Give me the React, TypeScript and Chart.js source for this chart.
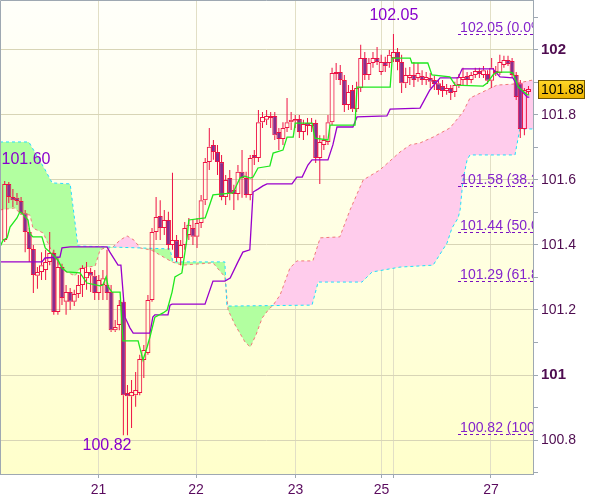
import React, { useEffect, useRef } from 'react';
import { Chart, registerables } from 'chart.js';

Chart.register(...registerables);

const FONT = '"Liberation Sans", Arial, Helvetica, sans-serif';

// ---------- candle data (hourly) ----------
const opens = [
  101.415, 101.588, 101.548, 101.545, 101.535, 101.498, 101.440, 101.388, 101.305, 101.317,
  101.323, 101.348, 101.375, 101.194, 101.332, 101.225, 101.255, 101.225, 101.249, 101.277,
  101.298, 101.317, 101.305, 101.252, 101.277, 101.277, 101.255, 101.138, 101.154, 101.225,
  100.945, 100.935, 100.938, 100.945, 101.046, 101.068, 101.231, 101.440, 101.489, 101.452,
  101.477, 101.400, 101.415, 101.360, 101.400, 101.431, 101.452, 101.425, 101.468, 101.538,
  101.655, 101.708, 101.686, 101.655, 101.548, 101.606, 101.569, 101.557, 101.625, 101.606,
  101.554, 101.677, 101.668, 101.778, 101.785, 101.791, 101.797, 101.748, 101.726, 101.760,
  101.778, 101.782, 101.788, 101.748, 101.775, 101.766, 101.775, 101.668, 101.708, 101.717,
  101.778, 101.926, 101.932, 101.908, 101.831, 101.877, 101.818, 101.883, 101.975, 101.923,
  101.960, 101.975, 101.932, 101.963, 101.960, 101.975, 101.994, 101.963, 101.898, 101.914,
  101.923, 101.914, 101.920, 101.908, 101.914, 101.908, 101.898, 101.889, 101.874, 101.883,
  101.871, 101.892, 101.908, 101.920, 101.908, 101.923, 101.935, 101.923, 101.926, 101.905,
  101.929, 101.929, 101.954, 101.969, 101.966, 101.923, 101.898, 101.757, 101.871,
];
const highs = [
  101.597, 101.594, 101.572, 101.560, 101.548, 101.508, 101.452, 101.400, 101.332, 101.378,
  101.385, 101.440, 101.385, 101.360, 101.342, 101.277, 101.268, 101.262, 101.308, 101.338,
  101.348, 101.329, 101.323, 101.308, 101.323, 101.385, 101.277, 101.169, 101.231, 101.231,
  100.969, 100.985, 101.009, 101.062, 101.092, 101.246, 101.452, 101.548, 101.538, 101.508,
  101.502, 101.622, 101.431, 101.415, 101.471, 101.483, 101.477, 101.483, 101.554, 101.668,
  101.760, 101.723, 101.708, 101.677, 101.615, 101.631, 101.585, 101.646, 101.692, 101.625,
  101.677, 101.692, 101.815, 101.809, 101.815, 101.809, 101.809, 101.760, 101.778, 101.852,
  101.809, 101.800, 101.800, 101.785, 101.791, 101.791, 101.785, 101.738, 101.738, 101.800,
  101.945, 101.960, 101.954, 101.923, 101.892, 101.892, 101.902, 102.016, 101.994, 101.975,
  101.994, 102.009, 101.985, 101.979, 102.000, 102.049, 102.006, 101.985, 101.945, 101.948,
  101.963, 101.960, 101.938, 101.932, 101.929, 101.920, 101.908, 101.908, 101.895, 101.892,
  101.902, 101.926, 101.945, 101.932, 101.932, 101.945, 101.945, 101.951, 101.938, 101.975,
  101.951, 101.985, 101.982, 101.982, 101.975, 101.932, 101.908, 101.883, 101.889,
];
const lows = [
  101.409, 101.529, 101.517, 101.523, 101.492, 101.378, 101.348, 101.252, 101.265, 101.292,
  101.292, 101.338, 101.185, 101.185, 101.215, 101.185, 101.200, 101.212, 101.237, 101.240,
  101.262, 101.255, 101.231, 101.231, 101.231, 101.231, 101.132, 101.132, 101.138, 100.815,
  100.815, 100.837, 100.902, 100.938, 100.991, 101.062, 101.225, 101.415, 101.415, 101.431,
  101.385, 101.385, 101.348, 101.338, 101.385, 101.415, 101.400, 101.391, 101.452, 101.523,
  101.631, 101.662, 101.615, 101.538, 101.523, 101.538, 101.508, 101.538, 101.545, 101.545,
  101.538, 101.646, 101.655, 101.760, 101.769, 101.760, 101.723, 101.692, 101.708, 101.748,
  101.754, 101.760, 101.729, 101.723, 101.738, 101.748, 101.652, 101.588, 101.692, 101.708,
  101.769, 101.908, 101.892, 101.809, 101.815, 101.809, 101.809, 101.871, 101.908, 101.908,
  101.945, 101.954, 101.923, 101.932, 101.945, 101.963, 101.938, 101.868, 101.883, 101.892,
  101.886, 101.902, 101.892, 101.892, 101.883, 101.877, 101.862, 101.855, 101.862, 101.846,
  101.855, 101.883, 101.889, 101.892, 101.898, 101.914, 101.914, 101.914, 101.895, 101.883,
  101.920, 101.923, 101.945, 101.951, 101.914, 101.846, 101.729, 101.738, 101.862,
];
const closes = [
  101.588, 101.548, 101.538, 101.535, 101.498, 101.440, 101.388, 101.308, 101.317, 101.338,
  101.348, 101.375, 101.194, 101.332, 101.237, 101.255, 101.225, 101.249, 101.277, 101.329,
  101.317, 101.305, 101.252, 101.292, 101.298, 101.252, 101.138, 101.148, 101.215, 100.938,
  100.935, 100.948, 100.954, 101.049, 101.077, 101.231, 101.440, 101.486, 101.452, 101.477,
  101.400, 101.415, 101.360, 101.400, 101.452, 101.462, 101.425, 101.468, 101.538, 101.655,
  101.702, 101.686, 101.655, 101.548, 101.600, 101.560, 101.557, 101.625, 101.606, 101.554,
  101.668, 101.668, 101.778, 101.794, 101.797, 101.797, 101.738, 101.726, 101.760, 101.778,
  101.785, 101.788, 101.748, 101.772, 101.766, 101.775, 101.668, 101.717, 101.723, 101.778,
  101.929, 101.932, 101.908, 101.831, 101.871, 101.818, 101.883, 101.975, 101.923, 101.960,
  101.975, 101.963, 101.963, 101.951, 101.985, 101.994, 101.963, 101.898, 101.923, 101.923,
  101.908, 101.929, 101.908, 101.917, 101.902, 101.895, 101.877, 101.874, 101.883, 101.868,
  101.892, 101.917, 101.917, 101.908, 101.923, 101.935, 101.926, 101.938, 101.905, 101.945,
  101.935, 101.963, 101.969, 101.957, 101.923, 101.855, 101.757, 101.877, 101.880,
];

// ---------- Ichimoku lines, [bar index, price] ----------
const tenkanLine = [
  [-1.15, 101.394], [-0.4, 101.415], [0.6, 101.422], [1.3, 101.455], [3.0, 101.483], [3.7, 101.502],
  [4.2, 101.498], [5.7, 101.477], [6.2, 101.434], [6.9, 101.425], [9.1, 101.425], [9.9, 101.391],
  [11.1, 101.378], [13.0, 101.354], [14.0, 101.329], [15.2, 101.317], [18.4, 101.314], [20.1, 101.283],
  [23.3, 101.274], [24.0, 101.277], [24.8, 101.302], [25.3, 101.271], [26.2, 101.255], [28.2, 101.255],
  [28.9, 101.105], [32.6, 101.105], [33.8, 101.046], [34.8, 101.086], [35.5, 101.117], [36.7, 101.178],
  [38.7, 101.191], [39.7, 101.200], [40.9, 101.255], [41.6, 101.302], [43.3, 101.314], [44.6, 101.425],
  [45.0, 101.477], [49.0, 101.483], [50.9, 101.554], [55.8, 101.560], [57.5, 101.606], [58.7, 101.612],
  [60.0, 101.606], [60.7, 101.609], [61.9, 101.637], [64.8, 101.643], [65.6, 101.683], [68.0, 101.692],
  [69.0, 101.732], [70.5, 101.732], [71.0, 101.775], [75.1, 101.775], [75.8, 101.729], [79.0, 101.723],
  [79.5, 101.769], [85.6, 101.769], [86.1, 101.886], [94.2, 101.886], [94.7, 101.975], [99.1, 101.975],
  [99.5, 101.960], [103.4, 101.960], [104.4, 101.923], [108.8, 101.917], [110.1, 101.892], [116.9, 101.889],
  [117.9, 101.898], [119.3, 101.923], [120.3, 101.932], [123.5, 101.932], [124.2, 101.929], [125.5, 101.886],
  [127.7, 101.862], [128.2, 101.862],
];
const kijunLine = [
  [-1.15, 101.348], [9.1, 101.348], [9.85, 101.360], [13.5, 101.363], [14.0, 101.391], [16.0, 101.394],
  [25.0, 101.394], [25.7, 101.378], [27.7, 101.338], [28.4, 101.338], [29.4, 101.178], [30.6, 101.145],
  [31.4, 101.129], [35.5, 101.129], [36.2, 101.178], [36.7, 101.185], [39.9, 101.185], [40.4, 101.215],
  [40.9, 101.218], [48.95, 101.218], [50.9, 101.289], [53.8, 101.289], [55.1, 101.298], [57.0, 101.348],
  [58.2, 101.378], [59.9, 101.385], [60.7, 101.563], [61.9, 101.572], [63.1, 101.582], [64.1, 101.588],
  [70.2, 101.588], [71.4, 101.609], [72.7, 101.609], [74.1, 101.646], [75.1, 101.662], [79.0, 101.662],
  [80.2, 101.708], [81.2, 101.763], [85.1, 101.763], [86.1, 101.794], [93.4, 101.797], [94.2, 101.818],
  [101.5, 101.821], [103.9, 101.877], [106.4, 101.914], [110.8, 101.914], [111.8, 101.942], [119.3, 101.942],
  [121.05, 101.917], [124.2, 101.914], [125.5, 101.886], [127.7, 101.855], [128.2, 101.855],
];
const spanALine = [
  [-1.15, 101.508], [2.5, 101.514], [3.7, 101.498], [6.2, 101.492], [6.9, 101.452], [9.4, 101.437],
  [11.1, 101.391], [12.3, 101.360], [14.0, 101.323], [17.2, 101.305], [18.4, 101.329], [22.1, 101.335],
  [23.3, 101.385], [24.5, 101.391], [26.2, 101.391], [28.2, 101.415], [29.9, 101.428], [31.6, 101.415],
  [33.1, 101.391], [35.5, 101.385], [36.2, 101.382], [39.2, 101.360], [40.9, 101.348], [43.3, 101.338],
  [47.7, 101.342], [50.9, 101.345], [53.8, 101.302], [54.6, 101.200], [56.3, 101.154], [58.7, 101.102],
  [60.0, 101.086], [61.4, 101.123], [62.9, 101.175], [64.4, 101.200], [65.6, 101.215], [67.3, 101.246],
  [69.7, 101.329], [71.4, 101.351], [75.3, 101.351], [77.1, 101.422], [81.9, 101.425], [84.4, 101.508],
  [87.6, 101.600], [91.7, 101.631], [96.6, 101.686], [99.1, 101.708], [101.5, 101.714], [104.7, 101.732],
  [108.8, 101.760], [112.0, 101.809], [113.7, 101.852], [120.3, 101.892], [124.2, 101.895], [129.2, 101.908],
];
const spanBLine = [
  [-1.15, 101.717], [5.9, 101.717], [9.9, 101.631], [11.6, 101.591], [16.0, 101.588], [17.9, 101.397],
  [40.4, 101.388], [41.1, 101.348], [53.8, 101.348], [54.3, 101.212], [75.1, 101.215], [76.6, 101.286],
  [87.3, 101.286], [89.8, 101.317], [96.6, 101.332], [104.7, 101.338], [105.5, 101.354], [108.1, 101.406],
  [109.3, 101.452], [110.8, 101.483], [111.3, 101.508], [112.0, 101.600], [113.0, 101.662], [113.7, 101.677],
  [124.7, 101.677], [125.9, 101.757], [129.2, 101.757],
];

// ---------- axes ----------
const X_MIN = -1.1486;
const X_MAX = 129.106;
const Y_MIN = 100.6954;
const Y_MAX = 102.1538;
const dayTickPos = [22.92, 46.75, 71.07, 92.08, 95.13, 118.84];
const dayTickLabels = ['21', '22', '23', '25', '', '27'];
const yTickValues = [100.7, 100.8, 100.9, 101.0, 101.1, 101.2, 101.3, 101.4, 101.5, 101.6, 101.7, 101.8, 101.9, 102.0, 102.1];
const yTickLabels = ['', '100.8', '', '101', '', '101.2', '', '101.4', '', '101.6', '', '101.8', '', '102', ''];

// ---------- annotations ----------
const fibValues = [102.05, 101.58, 101.44, 101.29, 100.82];
const fibLabels = ['102.05 (0.0%)', '101.58 (38.2%)', '101.44 (50.0%)', '101.29 (61.8%)', '100.82 (100.0%)'];
const fibStartIndex = 110.8;
const markerTexts = ['102.05', '100.82', '101.60'];
const markerIndex = [95.1, 25.0, 5.2];
const markerPrice = [102.105, 100.782, 101.662];
const lastPrice = 101.88;

// ---------- colours ----------
const RED = '#ee1144';
const PURPLE_BODY = '#8a2d8c';
const AXIS = '#9ea8b2';
const GRID_H = '#d8d5b6';
const GRID_V = '#e2dfc6';
const LABEL = '#4e0c50';
const MARK = '#8800cc';

const toXY = (arr: number[][]) => arr.map(([x, y]) => ({ x, y }));

const bgPlugin = {
  id: 'bgPlugin',
  beforeDraw(chart: any) {
    const { ctx, chartArea: a, width, height } = chart;
    ctx.save();
    ctx.fillStyle = '#ffffff';
    ctx.fillRect(0, 0, width, height);
    const g = ctx.createLinearGradient(0, a.top, 0, a.bottom);
    g.addColorStop(0, '#fffffa');
    g.addColorStop(1, '#ffffcb');
    ctx.fillStyle = g;
    ctx.fillRect(a.left, a.top, a.right - a.left, a.bottom - a.top);
    ctx.restore();
  },
};

const overlayPlugin = {
  id: 'overlayPlugin',
  afterDraw(chart: any) {
    const { ctx, chartArea: a, scales } = chart;
    const xs = scales.x;
    const ys = scales.y;
    ctx.save();
    ctx.beginPath();
    ctx.rect(a.left, a.top, a.right - a.left, a.bottom - a.top);
    ctx.clip();
    // fibonacci levels
    const x0 = xs.getPixelForValue(fibStartIndex);
    ctx.font = '14px ' + FONT;
    ctx.textAlign = 'left';
    ctx.textBaseline = 'alphabetic';
    fibValues.forEach((v, k) => {
      const y = Math.round(ys.getPixelForValue(v)) + 0.5;
      ctx.strokeStyle = '#7a10c0';
      ctx.lineWidth = 1;
      ctx.setLineDash([3, 3]);
      ctx.beginPath();
      ctx.moveTo(Math.round(x0), y);
      ctx.lineTo(a.right, y);
      ctx.stroke();
      ctx.setLineDash([]);
      ctx.fillStyle = '#8424cc';
      ctx.fillText(fibLabels[k], x0 + 2, y - 3);
    });
    // high / low markers
    ctx.font = '16px ' + FONT;
    ctx.textAlign = 'center';
    ctx.textBaseline = 'middle';
    ctx.fillStyle = MARK;
    markerTexts.forEach((t, k) => {
      ctx.fillText(t, xs.getPixelForValue(markerIndex[k]), ys.getPixelForValue(markerPrice[k]));
    });
    ctx.restore();

    // plot frame (top & left)
    ctx.save();
    ctx.strokeStyle = AXIS;
    ctx.lineWidth = 1;
    ctx.beginPath();
    ctx.moveTo(a.left + 0.5, a.bottom);
    ctx.lineTo(a.left + 0.5, a.top + 0.5);
    ctx.lineTo(a.right, a.top + 0.5);
    ctx.stroke();

    // last price box
    const py = Math.round(ys.getPixelForValue(lastPrice));
    const bx = Math.round(a.right) + 5;
    const bw = 46;
    const bh = 18;
    const by = py - 9;
    const g = ctx.createLinearGradient(0, by, 0, by + bh);
    g.addColorStop(0, '#ffd82a');
    g.addColorStop(1, '#eeb400');
    ctx.fillStyle = g;
    ctx.fillRect(bx, by, bw, bh);
    ctx.strokeStyle = '#6e5500';
    ctx.strokeRect(bx + 0.5, by + 0.5, bw, bh);
    ctx.fillStyle = '#000000';
    ctx.font = '14px ' + FONT;
    ctx.textAlign = 'left';
    ctx.textBaseline = 'middle';
    ctx.fillText(lastPrice.toFixed(2), bx + 3, py + 1);
    ctx.restore();
  },
};

export default function App() {
  const ref = useRef<HTMLCanvasElement | null>(null);

  useEffect(() => {
    const canvas = ref.current;
    if (!canvas) return;
    const idx = opens.map((_, i) => i);
    const bodies = idx.map((i) => ({ x: i, y: [opens[i], closes[i]] }));
    const upperWicks = idx.map((i) => ({ x: i, y: [Math.max(opens[i], closes[i]), highs[i]] }));
    const lowerWicks = idx.map((i) => ({ x: i, y: [lows[i], Math.min(opens[i], closes[i])] }));

    const chart = new Chart(canvas, {
      type: 'bar',
      data: {
        datasets: [
          {
            type: 'line',
            data: toXY(spanALine),
            borderColor: '#f07a7a',
            borderWidth: 1,
            borderDash: [3, 3],
            pointRadius: 0,
            tension: 0,
            fill: { target: 1, above: 'rgb(255,204,236)', below: 'rgb(178,255,160)' },
            order: 10,
          } as any,
          {
            type: 'line',
            data: toXY(spanBLine),
            borderColor: '#22ddff',
            borderWidth: 1,
            borderDash: [3, 3],
            pointRadius: 0,
            tension: 0,
            fill: false,
            order: 9,
          } as any,
          {
            type: 'bar',
            data: upperWicks,
            backgroundColor: RED,
            borderWidth: 0,
            barThickness: 1,
            grouped: false,
            inflateAmount: 0,
            order: 6,
          } as any,
          {
            type: 'bar',
            data: lowerWicks,
            backgroundColor: RED,
            borderWidth: 0,
            barThickness: 1,
            grouped: false,
            inflateAmount: 0,
            order: 6,
          } as any,
          {
            type: 'bar',
            data: bodies,
            backgroundColor: (c: any) =>
              closes[c.dataIndex] >= opens[c.dataIndex] ? 'rgba(0,0,0,0)' : PURPLE_BODY,
            borderColor: RED,
            borderWidth: 1,
            borderSkipped: false,
            barThickness: 5,
            grouped: false,
            inflateAmount: 0,
            order: 5,
          } as any,
          {
            type: 'line',
            data: toXY(kijunLine),
            borderColor: '#9900cc',
            borderWidth: 1.3,
            pointRadius: 0,
            tension: 0,
            fill: false,
            order: 2,
          } as any,
          {
            type: 'line',
            data: toXY(tenkanLine),
            borderColor: '#1ee81e',
            borderWidth: 1.3,
            pointRadius: 0,
            tension: 0,
            fill: false,
            order: 1,
          } as any,
        ],
      },
      options: {
        animation: false,
        responsive: false,
        devicePixelRatio: 1,
        layout: { padding: 0, autoPadding: false } as any,
        plugins: {
          legend: { display: false },
          tooltip: { enabled: false },
        },
        scales: {
          x: {
            type: 'linear',
            min: X_MIN,
            max: X_MAX,
            bounds: 'data',
            offset: false,
            afterBuildTicks: (s: any) => {
              s.ticks = dayTickPos.map((v) => ({ value: v }));
            },
            afterFit: (s: any) => {
              s.height = 23;
              s.paddingLeft = 0;
              s.paddingRight = 0;
            },
            grid: {
              color: GRID_V,
              tickColor: AXIS,
              tickLength: 4,
              offset: false,
            },
            border: { display: true, color: AXIS },
            ticks: {
              autoSkip: false,
              maxRotation: 0,
              padding: 4,
              color: '#5a0a5e',
              font: { family: FONT, size: 14 },
              callback: (_v: any, i: number) => dayTickLabels[i],
            },
          } as any,
          y: {
            type: 'linear',
            position: 'right',
            min: Y_MIN,
            max: Y_MAX,
            bounds: 'data',
            afterBuildTicks: (s: any) => {
              s.ticks = yTickValues.map((v) => ({ value: v }));
            },
            afterFit: (s: any) => {
              s.width = 67;
              s.paddingTop = 0;
              s.paddingBottom = 0;
            },
            grid: {
              color: (c: any) => (yTickLabels[c.index] ? GRID_H : 'rgba(0,0,0,0)'),
              tickColor: AXIS,
              tickLength: 5,
            },
            border: { display: true, color: AXIS },
            ticks: {
              autoSkip: false,
              padding: 3,
              color: LABEL,
              font: (c: any) => {
                const t = yTickLabels[c.index] || '';
                const bold = t !== '' && t.indexOf('.') < 0;
                return { family: FONT, size: bold ? 15 : 14, weight: bold ? 'bold' : 'normal' };
              },
              callback: (_v: any, i: number) => yTickLabels[i],
            },
          } as any,
        },
      },
      plugins: [bgPlugin, overlayPlugin],
    } as any);

    return () => chart.destroy();
  }, []);

  return (
    <div style={{ position: 'absolute', left: 0, top: 0, width: 600, height: 497, background: '#ffffff' }}>
      <canvas ref={ref} width={600} height={497} style={{ display: 'block', width: 600, height: 497 }} />
    </div>
  );
}
